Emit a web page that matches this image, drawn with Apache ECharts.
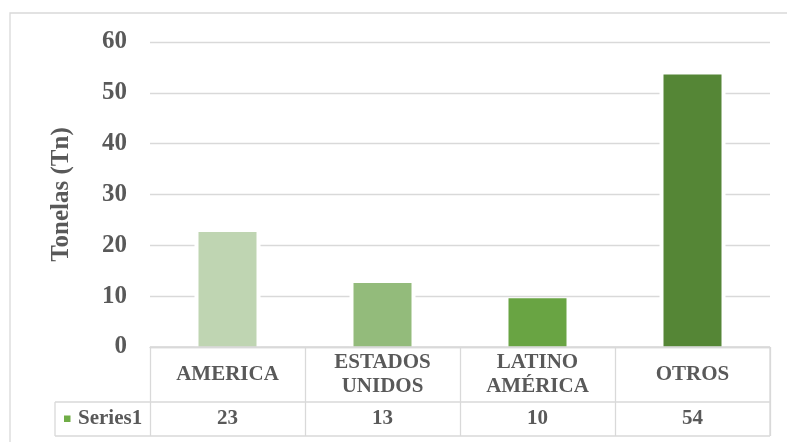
<!DOCTYPE html>
<html>
<head>
<meta charset="utf-8">
<script src="https://cdn.jsdelivr.net/npm/echarts@6/dist/echarts.min.js"></script>
<style>
html,body{margin:0;padding:0;background:#fff;}
#chart{width:787px;height:442px;}
</style>
</head>
<body>
<div id="chart"></div>
<script>
const categories = ['AMERICA', 'ESTADOS\nUNIDOS', 'LATINO\nAMÉRICA', 'OTROS'];
const values = [22.6, 12.6, 9.6, 53.6];
const barColors = ['#BFD5B2', '#93BB7B', '#69A443', '#558636'];
const seriesName = 'Series1';
const yTicks = { min: 0, max: 60, interval: 10 };
const yTitle = 'Tonelas (Tn)';

const FONT = '"Liberation Serif", "Times New Roman", serif';
const TXT = '#595959';
const LINE = '#D9D9D9';

const chart = echarts.init(document.getElementById('chart'), null, { renderer: 'canvas' });

const option = {
  animation: false,
  backgroundColor: '#fff',
  grid: { left: 150, right: 17, top: 42, bottom: 95, containLabel: false },
  xAxis: [{
    type: 'category',
    data: categories,
    boundaryGap: true,
    axisLine: { show: true, lineStyle: { color: LINE, width: 1.3 } },
    axisTick: { show: true, interval: 0, length: 89, lineStyle: { color: LINE, width: 1.3 } },
    axisLabel: {
      interval: 0, margin: 28, verticalAlign: 'middle',
      formatter: (v) => v.split('\n').map(s => '{b|' + s + '}').join('\n'),
      rich: { b: { fontFamily: FONT, fontWeight: 'bold', fontSize: 21, color: TXT, lineHeight: 24 } },
      fontFamily: FONT, fontWeight: 'bold', fontSize: 21, color: TXT, lineHeight: 24
    },
    z: 5
  }, {
    type: 'category',
    data: categories,
    show: false,
    gridIndex: 0
  }],
  yAxis: {
    type: 'value',
    min: yTicks.min, max: yTicks.max, interval: yTicks.interval,
    axisLine: { show: false },
    axisTick: { show: false },
    splitLine: { show: true, lineStyle: { color: LINE, width: 1.3 } },
    axisLabel: { margin: 23, fontFamily: FONT, fontWeight: 700, fontSize: 25, color: TXT },
    name: yTitle,
    nameLocation: 'middle',
    nameGap: 76,
    nameRotate: 90,
    nameTextStyle: { fontFamily: FONT, fontWeight: 700, fontSize: 25, color: TXT }
  },
  series: [{
    type: 'bar',
    xAxisIndex: 1,
    barWidth: 66,
    data: values,
    itemStyle: { color: '#fff' },
    silent: true,
    z: 1
  }, {
    type: 'bar',
    name: seriesName,
    xAxisIndex: 0,
    barWidth: 58,
    data: values.map((v, i) => ({ value: v, itemStyle: { color: barColors[i] } })),
    z: 2
  }]
};
chart.setOption(option);

// Data table below the axis, positioned via the library's scales
const y0 = chart.convertToPixel({ yAxisIndex: 0 }, 0);
const xLeft = 150, xRight = 787 - 17;
const rowSep = y0 + 55, rowBot = y0 + 89, tblLeft = 55;
const lineStyle = { stroke: LINE, lineWidth: 1.3 };
const graphics = [
  { type: 'rect', shape: { x: 10, y: 13, width: 800, height: 450 }, style: { fill: null, stroke: LINE, lineWidth: 1.3 }, z: 0, silent: true },
  { type: 'line', shape: { x1: tblLeft, y1: rowSep, x2: xRight, y2: rowSep }, style: lineStyle, z: 10 },
  { type: 'line', shape: { x1: tblLeft, y1: rowBot, x2: xRight, y2: rowBot }, style: lineStyle, z: 10 },
  { type: 'line', shape: { x1: tblLeft, y1: rowSep, x2: tblLeft, y2: rowBot }, style: lineStyle, z: 10 },
  { type: 'line', shape: { x1: xLeft, y1: y0, x2: xRight, y2: y0 }, style: lineStyle, z: 10 },
  { type: 'line', shape: { x1: xRight, y1: y0, x2: xRight, y2: rowBot }, style: lineStyle, z: 10 },
  { type: 'rect', shape: { x: 64, y: (rowSep + rowBot) / 2 - 3.5, width: 6.5, height: 6.5 }, style: { fill: '#70AD47' }, z: 10 },
  { type: 'text', x: 78, y: (rowSep + rowBot) / 2, style: { text: seriesName, font: 'bold 21px ' + FONT, fill: TXT, textAlign: 'left', textVerticalAlign: 'middle' }, z: 10 }
];
values.forEach((v, i) => {
  const cx = chart.convertToPixel({ xAxisIndex: 0 }, i);
  graphics.push({ type: 'text', x: cx, y: (rowSep + rowBot) / 2, style: { text: String(Math.round(v)), font: 'bold 21px ' + FONT, fill: TXT, textAlign: 'center', textVerticalAlign: 'middle' }, z: 10 });
});
chart.setOption({ graphic: graphics });
</script>
</body>
</html>
